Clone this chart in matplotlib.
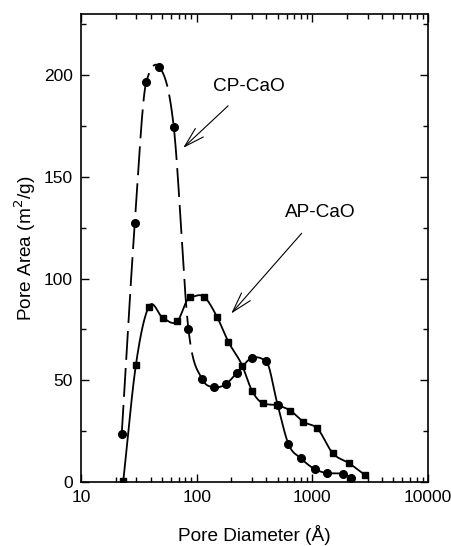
import numpy as np
import matplotlib
matplotlib.use("Agg")
import matplotlib.pyplot as plt
from matplotlib.ticker import FixedLocator, NullFormatter

plt.rcParams['font.family'] = ['Liberation Sans', 'DejaVu Sans']

# CP-CaO (circles)
cp_d = [22.5, 29.2, 36.6, 47.3, 63.4, 84.9, 111.7, 141, 177.6, 222.7, 300.5, 397,
        501, 620, 798, 1047, 1341, 1829, 2176]
cp_a = [23.7, 127.5, 196.4, 204.1, 174.4, 75.0, 50.6, 46.6, 48.0, 53.6, 61.0, 59.5,
        37.9, 18.8, 11.6, 6.4, 4.4, 4.1, 2.1]
cp_dash_end = 111.7  # curve drawn dashed up to this diameter, solid after

# AP-CaO (squares)
ap_d = [23.2, 29.8, 38.5, 51.3, 67.8, 87.3, 116, 150.4, 188.4, 247.6, 300.5, 374,
        494, 645, 836, 1105, 1499, 2080, 2860]
ap_a = [0.5, 57.4, 86.1, 80.5, 78.9, 90.7, 91.0, 81.0, 68.8, 57.2, 44.9, 38.7,
        37.7, 35.1, 29.6, 26.3, 14.2, 9.2, 3.4]

x_ticks = [10, 100, 1000, 10000]
y_ticks = [0, 50, 100, 150, 200]


def smooth(xs, ys, n=24):
    """Cubic Hermite curve through the points in log-x space (rendering only)."""
    x = np.log10(np.asarray(xs, float))
    y = np.asarray(ys, float)
    h = np.diff(x)
    d = np.diff(y) / h
    m = np.zeros_like(y)
    m[0], m[-1] = d[0], d[-1]
    for i in range(1, len(y) - 1):
        mi = (d[i - 1] * h[i] + d[i] * h[i - 1]) / (h[i - 1] + h[i])
        if d[i - 1] * d[i] > 0:
            lim = 3 * min(abs(d[i - 1]), abs(d[i]))
            mi = np.sign(mi) * min(abs(mi), lim)
        m[i] = mi
    ox, oy = [], []
    for i in range(len(h)):
        t = np.linspace(0, 1, n, endpoint=False)
        h00 = 2 * t ** 3 - 3 * t ** 2 + 1
        h10 = t ** 3 - 2 * t ** 2 + t
        h01 = -2 * t ** 3 + 3 * t ** 2
        h11 = t ** 3 - t ** 2
        ox.append(x[i] + t * h[i])
        oy.append(h00 * y[i] + h10 * h[i] * m[i] + h01 * y[i + 1] + h11 * h[i] * m[i + 1])
    ox.append([x[-1]])
    oy.append([y[-1]])
    return 10 ** np.concatenate(ox), np.concatenate(oy)


fig = plt.figure(figsize=(4.51, 5.46), dpi=100)
ax = fig.add_axes([81 / 451, 64 / 546, 347 / 451, 468 / 546])
ax.set_xscale('log')

lw = 1.3
# CP-CaO: dashed part then solid part
sx, sy = smooth(cp_d, cp_a)
k = int(np.searchsorted(sx, cp_dash_end * 0.9999))
ax.plot(sx[:k + 1], sy[:k + 1], color='black', lw=lw, ls=(0, (16, 4.5)))
ax.plot(sx[k:], sy[k:], color='black', lw=lw)
ax.plot(cp_d, cp_a, 'o', color='black', ms=5.5, ls='none')

# AP-CaO
sx, sy = smooth(ap_d, ap_a)
ax.plot(sx, sy, color='black', lw=lw)
ax.plot(ap_d, ap_a, 's', color='black', ms=5, ls='none')

ax.set_xlim(10, 10000)
ax.set_ylim(0, 230)
ax.set_xticks(x_ticks)
ax.set_xticklabels([str(v) for v in x_ticks])
ax.xaxis.set_minor_locator(FixedLocator([m * 10 ** e for e in range(1, 4) for m in range(2, 10)]))
ax.xaxis.set_minor_formatter(NullFormatter())
ax.set_yticks(y_ticks)
ax.yaxis.set_minor_locator(FixedLocator([25, 75, 125, 175, 225]))

ax.tick_params(which='both', direction='in', top=True, right=True, labelsize=12.5, width=1)
ax.tick_params(which='major', length=6, pad=6)
ax.tick_params(which='minor', length=3.5)
for s in ax.spines.values():
    s.set_linewidth(1.2)

ax.set_xlabel('Pore Diameter (Å)', fontsize=13.7, labelpad=14)
ax.set_ylabel('Pore Area (m$^2$/g)', fontsize=13.7, labelpad=4)

arrow_style = '->,head_length=0.66,head_width=0.19'
ax.annotate('CP-CaO', xy=(76.4, 164.2), xytext=(285, 194.6), fontsize=13.7,
            ha='center', va='center',
            arrowprops=dict(arrowstyle=arrow_style, color='black', lw=0.8,
                            shrinkA=9, shrinkB=0, mutation_scale=22))
ax.annotate('AP-CaO', xy=(199, 82.8), xytext=(1161, 132.4), fontsize=13.7,
            ha='center', va='center',
            arrowprops=dict(arrowstyle=arrow_style, color='black', lw=0.8,
                            shrinkA=9, shrinkB=0, mutation_scale=22))

fig.savefig('out.png', dpi=100)
